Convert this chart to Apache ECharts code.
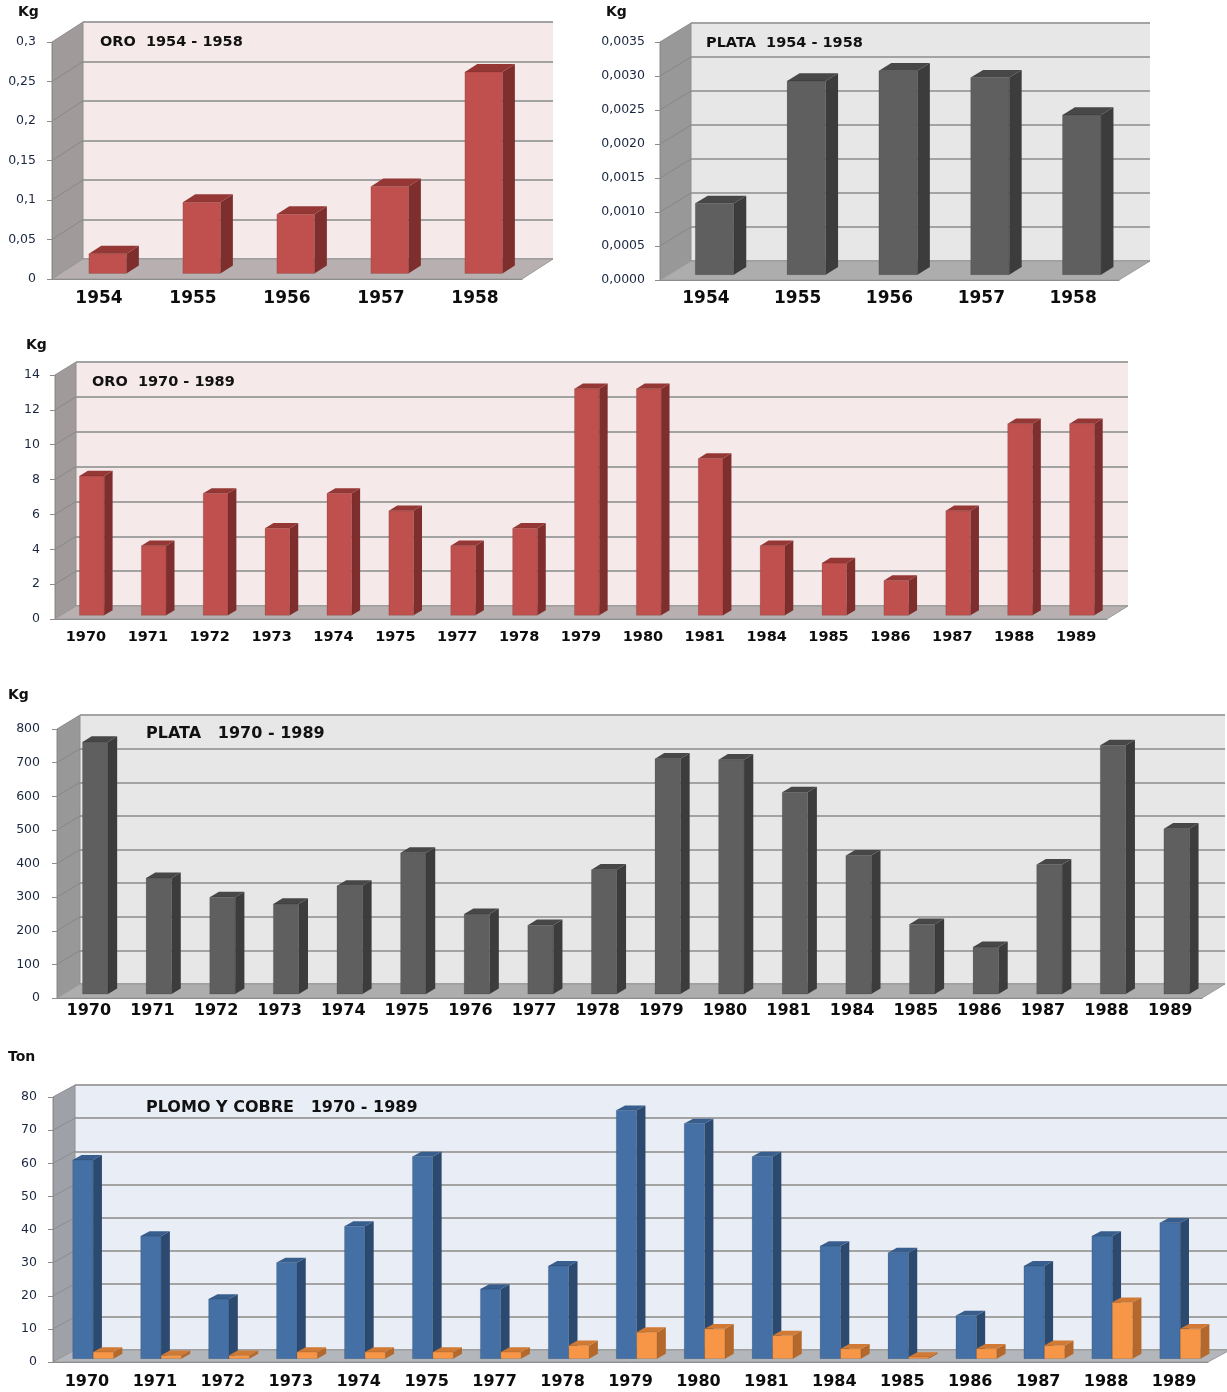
<!DOCTYPE html>
<html>
<head>
<meta charset="utf-8">
<script src="https://cdn.jsdelivr.net/npm/echarts@6/dist/echarts.min.js"></script>
<style>
html, body { margin: 0; padding: 0; background: #fff; }
#chart { width: 1227px; height: 1392px; }
</style>
</head>
<body>
<div id="chart"></div>
<script>
// ORO 1954 - 1958 (Kg)
const oroYears1 = ['1954', '1955', '1956', '1957', '1958'];
const oroValues1 = [0.025, 0.09, 0.075, 0.11, 0.255];
const oroTicks1 = ['0', '0,05', '0,1', '0,15', '0,2', '0,25', '0,3'];

// PLATA 1954 - 1958 (Kg)
const plataYears1 = ['1954', '1955', '1956', '1957', '1958'];
const plataValues1 = [0.00105, 0.00285, 0.0030, 0.0029, 0.00235];
const plataTicks1 = ['0,0000', '0,0005', '0,0010', '0,0015', '0,0020', '0,0025', '0,0030', '0,0035'];

// ORO 1970 - 1989 (Kg)
const oroYears2 = ['1970', '1971', '1972', '1973', '1974', '1975', '1977', '1978', '1979',
    '1980', '1981', '1984', '1985', '1986', '1987', '1988', '1989'];
const oroValues2 = [8, 4, 7, 5, 7, 6, 4, 5, 13, 13, 9, 4, 3, 2, 6, 11, 11];
const oroTicks2 = ['0', '2', '4', '6', '8', '10', '12', '14'];

// PLATA 1970 - 1989 (Kg)
const plataYears2 = ['1970', '1971', '1972', '1973', '1974', '1975', '1976', '1977', '1978',
    '1979', '1980', '1981', '1984', '1985', '1986', '1987', '1988', '1989'];
const plataValues2 = [750, 345, 288, 268, 322, 420, 238, 205, 370, 700, 697, 600, 412, 208, 140, 385, 740, 492];
const plataTicks2 = ['0', '100', '200', '300', '400', '500', '600', '700', '800'];

// PLOMO Y COBRE 1970 - 1989 (Ton)
const pcYears = ['1970', '1971', '1972', '1973', '1974', '1975', '1977', '1978', '1979',
    '1980', '1981', '1984', '1985', '1986', '1987', '1988', '1989'];
const plomoValues = [60, 37, 18, 29, 40, 61, 21, 28, 75, 71, 61, 34, 32, 13, 28, 37, 41];
const cobreValues = [2, 1, 1, 2, 2, 2, 2, 4, 8, 9, 7, 3, 0.5, 3, 4, 17, 9];
const pcTicks = ['0', '10', '20', '30', '40', '50', '60', '70', '80'];

const FONT = 'DejaVu Sans';
const RED = ['#c0504d', '#7e2f2d', '#953735'];
const GRAY = ['#5f5f5f', '#3c3c3c', '#474747'];
const BLUE = ['#4470a6', '#2c4a70', '#385e8d'];
const ORANGE = ['#f79646', '#b4682c', '#d07a35'];

const panels = [
    {
        years: oroYears1, series: [oroValues1], colors: [RED], ticks: oroTicks1, interval: 0.05,
        left: 52, top: 42, width: 470, height: 237, dx: 31, dy: -20,
        wall: '#f5e9e9', floor: '#b8b0b0', side: '#a09a9a', barWidth: 0.4,
        unit: 'Kg', unitPos: [18, 5], title: 'ORO  1954 - 1958', titlePos: [100, 35], titleSize: 14.5,
        xSize: 17, xMargin: 11, yMargin: 16
    },
    {
        years: plataYears1, series: [plataValues1], colors: [GRAY], ticks: plataTicks1, interval: 0.0005,
        left: 660, top: 42, width: 459, height: 238, dx: 31, dy: -19,
        wall: '#e7e7e7', floor: '#adadad', side: '#989898', barWidth: 0.42,
        unit: 'Kg', unitPos: [606, 5], title: 'PLATA  1954 - 1958', titlePos: [706, 36], titleSize: 14.5,
        xSize: 17, xMargin: 10, yMargin: 15
    },
    {
        years: oroYears2, series: [oroValues2], colors: [RED], ticks: oroTicks2, interval: 2,
        left: 55, top: 375, width: 1052, height: 244, dx: 21, dy: -13,
        wall: '#f5e9e9', floor: '#b8b0b0', side: '#a09a9a', barWidth: 0.4,
        unit: 'Kg', unitPos: [26, 338], title: 'ORO  1970 - 1989', titlePos: [92, 375], titleSize: 14.5,
        xSize: 14.5, xMargin: 11, yMargin: 15
    },
    {
        years: plataYears2, series: [plataValues2], colors: [GRAY], ticks: plataTicks2, interval: 100,
        left: 57, top: 729, width: 1145, height: 269, dx: 23, dy: -14,
        wall: '#e7e7e7', floor: '#adadad', side: '#989898', barWidth: 0.4,
        unit: 'Kg', unitPos: [8, 688], title: 'PLATA   1970 - 1989', titlePos: [146, 726], titleSize: 16,
        xSize: 16, xMargin: 5, yMargin: 17
    },
    {
        years: pcYears, series: [plomoValues, cobreValues], colors: [BLUE, ORANGE], ticks: pcTicks, interval: 10,
        left: 53, top: 1097, width: 1155, height: 265, dx: 22, dy: -12,
        wall: '#e9edf5', floor: '#b3b6bb', side: '#9ea2a8', barWidth: 0.3,
        unit: 'Ton', unitPos: [8, 1050], title: 'PLOMO Y COBRE   1970 - 1989', titlePos: [146, 1100], titleSize: 16,
        xSize: 16, xMargin: 12, yMargin: 16
    }
];

function wallRender(P) {
    return function (params, api) {
        const cs = params.coordSys;
        const x0 = cs.x, x1 = cs.x + cs.width, yT = cs.y, yB = cs.y + cs.height;
        const dx = P.dx, dy = P.dy;
        const children = [
            {
                type: 'polygon',
                shape: { points: [[x0, yT], [x0 + dx, yT + dy], [x0 + dx, yB + dy], [x0, yB]] },
                style: { fill: P.side, stroke: '#8f8f8f', lineWidth: 1 }
            },
            {
                type: 'polygon',
                shape: { points: [[x0, yB], [x1, yB], [x1 + dx, yB + dy], [x0 + dx, yB + dy]] },
                style: { fill: P.floor, stroke: '#9a9a9a', lineWidth: 1 }
            }
        ];
        for (let k = 1; k < P.ticks.length - 1; k++) {
            const y = api.coord([0, k * P.interval])[1];
            children.push({
                type: 'line',
                shape: { x1: x0, y1: y, x2: x0 + dx, y2: y + dy },
                style: { stroke: 'rgba(120,120,120,0.55)', lineWidth: 1 }
            });
        }
        return { type: 'group', children: children };
    };
}

function barRender(P, sIdx) {
    const nSeries = P.series.length;
    const cols = P.colors[sIdx];
    return function (params, api) {
        const i = api.value(0), v = api.value(1);
        const base = api.coord([i, 0]);
        const top = api.coord([i, v]);
        const band = api.size([1, 0])[0];
        const w = band * P.barWidth;
        const fx = P.dx * 0.28, fy = P.dy * 0.28;
        const ddx = P.dx * 0.4, ddy = P.dy * 0.4;
        const x = base[0] - w * nSeries / 2 + sIdx * w + fx;
        const yb = base[1] + fy, yt = Math.min(top[1] + fy, yb - 1);
        return {
            type: 'group',
            children: [
                {
                    type: 'polygon',
                    shape: { points: [[x + w, yt], [x + w + ddx, yt + ddy], [x + w + ddx, yb + ddy], [x + w, yb]] },
                    style: { fill: cols[1] }
                },
                {
                    type: 'polygon',
                    shape: { points: [[x, yt], [x + w, yt], [x + w + ddx, yt + ddy], [x + ddx, yt + ddy]] },
                    style: { fill: cols[2] }
                },
                {
                    type: 'rect',
                    shape: { x: x, y: yt, width: w, height: yb - yt },
                    style: { fill: cols[0], stroke: 'rgba(0,0,0,0.12)', lineWidth: 1 }
                }
            ]
        };
    };
}

const option = {
    animation: false,
    backgroundColor: '#fff',
    title: [],
    grid: [],
    xAxis: [],
    yAxis: [],
    series: []
};

panels.forEach((P, p) => {
    const gFront = 2 * p, gBack = 2 * p + 1;
    const maxV = (P.ticks.length - 1) * P.interval;

    option.title.push({
        text: P.unit, left: P.unitPos[0], top: P.unitPos[1], padding: 0,
        textStyle: { fontFamily: FONT, fontSize: 14, fontWeight: 'bold', color: '#111' }
    });
    option.title.push({
        text: P.title, left: P.titlePos[0], top: P.titlePos[1], padding: 0,
        textStyle: { fontFamily: FONT, fontSize: P.titleSize, fontWeight: 'bold', color: '#111' }
    });

    option.grid.push({ left: P.left, top: P.top, width: P.width, height: P.height });
    option.grid.push({
        left: P.left + P.dx, top: P.top + P.dy, width: P.width, height: P.height,
        show: true, backgroundColor: P.wall, borderWidth: 0
    });

    option.xAxis.push({
        type: 'category', gridIndex: gFront, data: P.years, z: 10,
        axisLine: { show: true, lineStyle: { color: '#8c8c8c', width: 1 } },
        axisTick: { show: false },
        axisLabel: {
            interval: 0, margin: P.xMargin, color: '#0d0d0d',
            fontFamily: FONT, fontSize: P.xSize, fontWeight: 'bold'
        }
    });
    option.xAxis.push({
        type: 'category', gridIndex: gBack, data: P.years, show: false
    });

    option.yAxis.push({
        type: 'value', gridIndex: gFront, min: 0, max: maxV, interval: P.interval, z: 10,
        axisLine: { show: true, lineStyle: { color: '#8c8c8c', width: 1 } },
        axisTick: { show: true, length: 5, lineStyle: { color: '#8c8c8c' } },
        splitLine: { show: false },
        axisLabel: {
            margin: P.yMargin, color: '#1b2740', fontFamily: FONT, fontSize: 12.5,
            padding: [4, 0, 0, 0],
            formatter: (v) => P.ticks[Math.round(v / P.interval)]
        }
    });
    option.yAxis.push({
        type: 'value', gridIndex: gBack, min: 0, max: maxV, interval: P.interval,
        axisLine: { show: false }, axisTick: { show: false }, axisLabel: { show: false },
        splitLine: { show: true, lineStyle: { color: '#a3a3a3', width: 2 } }
    });

    option.series.push({
        type: 'custom', name: 'walls' + p, xAxisIndex: gFront, yAxisIndex: gFront,
        data: [[0, 0]], renderItem: wallRender(P), z: 1, silent: true
    });
    P.series.forEach((vals, s) => {
        option.series.push({
            type: 'custom', name: 'bars' + p + '_' + s, xAxisIndex: gFront, yAxisIndex: gFront,
            data: vals.map((v, i) => [i, v]),
            encode: { x: 0, y: 1 },
            renderItem: barRender(P, s), z: 3
        });
    });
});

const chart = echarts.init(document.getElementById('chart'));
chart.setOption(option);
</script>
</body>
</html>
